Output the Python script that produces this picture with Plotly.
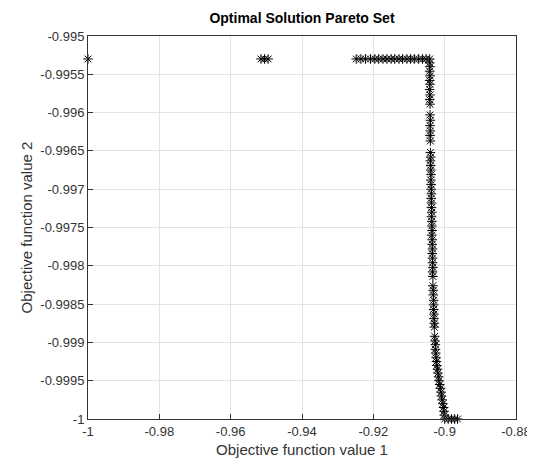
import plotly.graph_objects as go

# Top row of the Pareto set (horizontal branch)
row_x = [-1.0, -0.9515, -0.9505, -0.9495,
         -0.9248, -0.9235, -0.9222, -0.9208, -0.9196, -0.9185, -0.9173, -0.9162,
         -0.9150, -0.9140, -0.9128, -0.9118, -0.9106, -0.9096, -0.9085, -0.9073,
         -0.9062, -0.9052, -0.9042]
row_y = [-0.9953] * len(row_x)

# Vertical branch
col_y = [-0.99535, -0.99540, -0.99546, -0.99552, -0.99558, -0.99563, -0.99570, -0.99577,
         -0.99583, -0.99589, -0.99603, -0.99610, -0.99617, -0.99624, -0.99630, -0.99637,
         -0.99652, -0.99658, -0.99663, -0.99669, -0.99675, -0.99681, -0.99688, -0.99694,
         -0.99700, -0.99706, -0.99712, -0.99718, -0.99724, -0.99730, -0.99736, -0.99742,
         -0.99748, -0.99754, -0.99760, -0.99766, -0.99772, -0.99778, -0.99784, -0.99790,
         -0.99796, -0.99802, -0.99808, -0.99814, -0.99826, -0.99832, -0.99838, -0.99845,
         -0.99851, -0.99857, -0.99863, -0.99869, -0.99875, -0.99880, -0.99892, -0.99898,
         -0.99903, -0.99909, -0.99914, -0.99920, -0.99925, -0.99930, -0.99935, -0.99940,
         -0.99945, -0.99950, -0.99955, -0.99960, -0.99965, -0.99970, -0.99975, -0.99980,
         -0.99985, -0.99990, -0.99995, -1.0, -1.0, -1.0, -1.0, -1.0]
col_x = [-0.9042, -0.9041, -0.9042, -0.9041, -0.9042, -0.9041, -0.9042, -0.9041,
         -0.9042, -0.9041, -0.9041, -0.9040, -0.9041, -0.9040, -0.9041, -0.9040,
         -0.9040, -0.9039, -0.9040, -0.9039, -0.9039, -0.9038, -0.9039, -0.9038,
         -0.9038, -0.9037, -0.9038, -0.9037, -0.9037, -0.9036, -0.9037, -0.9036,
         -0.9036, -0.9035, -0.9036, -0.9035, -0.9035, -0.9034, -0.9035, -0.9034,
         -0.9034, -0.9033, -0.9034, -0.9033, -0.9033, -0.9032, -0.9032, -0.9031,
         -0.9031, -0.9031, -0.9030, -0.9030, -0.9029, -0.9029, -0.9028, -0.9027,
         -0.9026, -0.9026, -0.9025, -0.9024, -0.9023, -0.9022, -0.9020, -0.9019,
         -0.9017, -0.9016, -0.9014, -0.9012, -0.9010, -0.9009, -0.9007, -0.9005,
         -0.9003, -0.9002, -0.9001, -0.9000, -0.8990, -0.8981, -0.8972, -0.8964]

x_ticks = [-1, -0.98, -0.96, -0.94, -0.92, -0.9, -0.88]
x_tick_text = ["-1", "-0.98", "-0.96", "-0.94", "-0.92", "-0.9", "-0.88"]
y_ticks = [-0.995, -0.9955, -0.996, -0.9965, -0.997, -0.9975, -0.998, -0.9985, -0.999, -0.9995, -1]
y_tick_text = ["-0.995", "-0.9955", "-0.996", "-0.9965", "-0.997", "-0.9975",
               "-0.998", "-0.9985", "-0.999", "-0.9995", "-1"]

FONT = "Liberation Sans, Arial, Helvetica, sans-serif"
AX = "#333333"

fig = go.Figure()
fig.add_trace(go.Scatter(
    x=row_x + col_x, y=row_y + col_y, mode="markers",
    marker=dict(symbol="asterisk-open", size=8, color="black",
                line=dict(color="black", width=1)),
    cliponaxis=False, showlegend=False,
))

axis_common = dict(
    showline=True, linecolor=AX, linewidth=1, mirror=True,
    ticks="inside", ticklen=5, tickcolor=AX,
    showgrid=True, gridcolor="#e3e3e3", gridwidth=1,
    zeroline=False, tickfont=dict(family=FONT, size=13, color=AX),
    ticklabeloverflow="allow",
)

fig.update_layout(
    width=535, height=464,
    paper_bgcolor="white", plot_bgcolor="white",
    margin=dict(l=80, r=13, t=28, b=53),
    title=dict(text="<b>Optimal Solution Pareto Set</b>", x=0.5, xref="paper",
               xanchor="center", y=1 - 10 / 464, yanchor="middle",
               font=dict(family=FONT, size=14, color="black")),
    xaxis=dict(range=[-1, -0.88], tickvals=x_ticks, ticktext=x_tick_text,
               title=dict(text="Objective function value 1", standoff=6,
                          font=dict(family=FONT, size=15, color=AX)),
               **axis_common),
    yaxis=dict(range=[-1, -0.995], tickvals=y_ticks, ticktext=y_tick_text,
               title=dict(text="Objective function value 2", standoff=4,
                          font=dict(family=FONT, size=15, color=AX)),
               **axis_common),
)

fig.write_html("out.html")
